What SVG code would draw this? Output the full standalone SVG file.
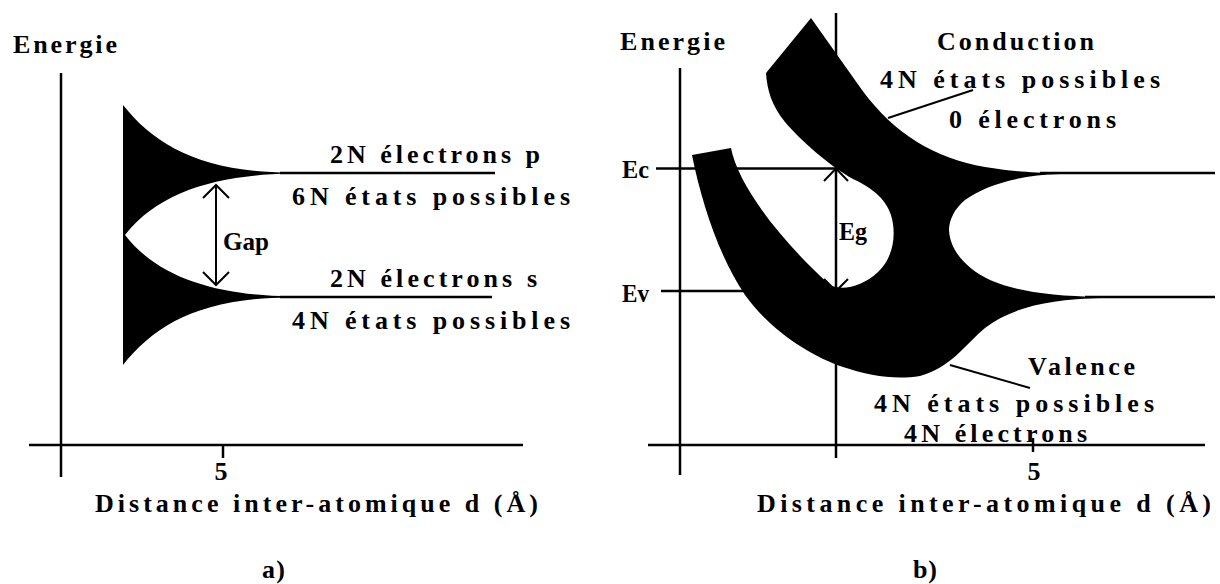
<svg xmlns="http://www.w3.org/2000/svg" width="1220" height="584" viewBox="0 0 1220 584">
<style>
.t{font-family:"Liberation Serif","Times New Roman",serif;font-weight:bold;font-size:26px;fill:#000}
.m{text-anchor:middle}
.ax{stroke:#000;stroke-width:2.5;fill:none}
.ln{stroke:#000;stroke-width:2;fill:none}
.band{fill:#000;stroke:none}
</style>
<rect width="1220" height="584" fill="#fff"/>

<g id="panel-a">
  <g id="a-axes">
    <line class="ax" x1="61" y1="73" x2="61" y2="477"/>
    <line class="ax" x1="29" y1="445" x2="523" y2="445"/>
    <line class="ax" x1="223" y1="445" x2="223" y2="458"/>
  </g>
  <g id="a-bands">
    <path class="band" d="M123,105 C155,145 200,172 290,172.5 L290,173.5 C220,175 160,190 125,235 C160,280 220,295 290,296.5 L290,297.5 C200,298 155,325 123,365 Z"/>
    <line class="ax" x1="280" y1="173" x2="495" y2="173"/>
    <line class="ax" x1="280" y1="297" x2="492" y2="297"/>
  </g>
  <g id="a-gap-arrow">
    <line class="ln" x1="216" y1="185" x2="216" y2="285"/>
    <polyline class="ln" points="203,198 216,185 229,198"/>
    <polyline class="ln" points="203,272 216,285 229,272"/>
  </g>
  <g id="a-labels">
    <text class="t" x="13" y="53" textLength="104" lengthAdjust="spacing">Energie</text>
    <text class="t" x="330" y="163" textLength="210" lengthAdjust="spacing">2N électrons p</text>
    <text class="t" x="292" y="205" textLength="278" lengthAdjust="spacing">6N états possibles</text>
    <text class="t" x="223" y="250" textLength="46" lengthAdjust="spacingAndGlyphs">Gap</text>
    <text class="t" x="330" y="287" textLength="207" lengthAdjust="spacing">2N électrons s</text>
    <text class="t" x="292" y="329" textLength="278" lengthAdjust="spacing">4N états possibles</text>
    <text class="t m" x="221" y="480">5</text>
    <text class="t" x="95" y="512" textLength="443" lengthAdjust="spacing">Distance inter-atomique d (Å)</text>
    <text class="t" x="262" y="578" textLength="23" lengthAdjust="spacing">a)</text>
  </g>
</g>

<g id="panel-b">
  <g id="b-axes">
    <line class="ax" x1="680" y1="68" x2="680" y2="475"/>
    <line class="ax" x1="836" y1="13" x2="836" y2="458"/>
    <line class="ax" x1="648" y1="445" x2="1205" y2="445"/>
    <line class="ax" x1="1033" y1="438" x2="1033" y2="452"/>
  </g>
  <g id="b-levels">
    <line class="ax" x1="656" y1="168.5" x2="836" y2="168.5"/>
    <line class="ax" x1="661" y1="291" x2="836" y2="291"/>
    <line class="ax" x1="1040" y1="173" x2="1215" y2="173"/>
    <line class="ax" x1="1085" y1="297" x2="1215" y2="297"/>
  </g>
  <g id="b-bands">
    <path class="band" d="M811,18 L862,90 C895,135 935,158 985,167 C1010,171 1030,173 1060,173.3 L1060,174 C1020,175 985,185 965,200 C955,208 949,220 949,230 C950,250 965,268 990,280 C1015,291 1050,296 1100,297 L1100,298 C1050,299 1010,308 985,328 C965,345 950,368 920,376 C895,380 870,376 843,367 C810,356 770,330 745,295 C720,258 702,205 692,155 L731,148 C738,185 780,240 830,285 C842,291 862,287 878,272 C893,258 897,235 891,215 C885,197 870,187 853,179 C830,166 800,140 785,122 C772,106 767,90 766,73 Z"/>
  </g>
  <g id="b-eg-arrow">
    <line class="ln" x1="836" y1="168.5" x2="836" y2="291"/>
    <polyline class="ln" points="824,181 836,168.5 848,181"/>
    <polyline class="ln" points="824,279 836,291 848,279"/>
  </g>
  <g id="b-leaders">
    <line class="ln" x1="888" y1="118" x2="973" y2="90"/>
    <line class="ln" x1="950" y1="365" x2="1030" y2="388"/>
  </g>
  <g id="b-labels">
    <text class="t" x="620" y="50" textLength="105" lengthAdjust="spacing">Energie</text>
    <text class="t" x="937" y="50" textLength="157" lengthAdjust="spacing">Conduction</text>
    <text class="t" x="880" y="88" textLength="280" lengthAdjust="spacing">4N états possibles</text>
    <text class="t" x="949" y="128" textLength="167" lengthAdjust="spacing">0 électrons</text>
    <text class="t" x="622" y="178" textLength="27" lengthAdjust="spacingAndGlyphs">Ec</text>
    <text class="t" x="622" y="302" textLength="27" lengthAdjust="spacingAndGlyphs">Ev</text>
    <text class="t" x="839" y="240" textLength="28" lengthAdjust="spacingAndGlyphs">Eg</text>
    <text class="t" x="1028" y="375" textLength="107" lengthAdjust="spacing">Valence</text>
    <text class="t" x="874" y="412" textLength="280" lengthAdjust="spacing">4N états possibles</text>
    <text class="t" x="904" y="442" textLength="183" lengthAdjust="spacing">4N électrons</text>
    <text class="t m" x="1034" y="480">5</text>
    <text class="t" x="757" y="512" textLength="454" lengthAdjust="spacing">Distance inter-atomique d (Å)</text>
    <text class="t" x="913" y="578" textLength="24" lengthAdjust="spacing">b)</text>
  </g>
</g>
</svg>
